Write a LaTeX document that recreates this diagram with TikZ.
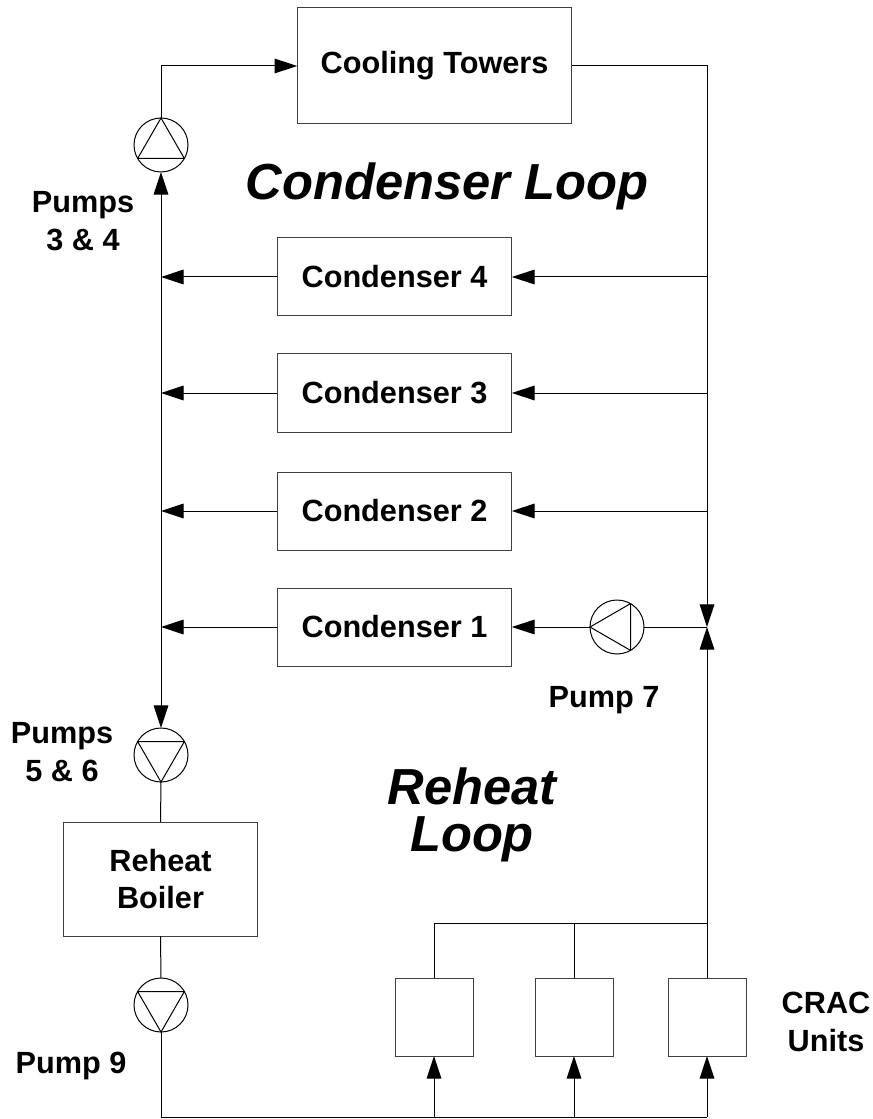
\documentclass[tikz,border=0pt]{standalone}
\usepackage{fontspec}
\setmainfont{Liberation Sans}
\usepackage{tikz}
\usetikzlibrary{arrows.meta}

\newcommand{\lbltxt}{\fontsize{23}{28}\selectfont\bfseries}
\newcommand{\looptxt}{\fontsize{38}{35}\selectfont\bfseries\itshape}

\tikzset{
  pipe/.style={line width=0.75pt},
  flow/.style={pipe,-{Triangle[length=17pt,width=11pt]}},
  unit/.style={draw=black!75,line width=0.75pt,inner sep=0pt,outer sep=0pt,font=\lbltxt,align=center},
  pump/.style={draw,circle,line width=0.75pt,inner sep=0pt,outer sep=0pt,minimum size=40.5pt},
  tag/.style={font=\lbltxt,align=center}
}

\begin{document}
\begin{tikzpicture}[x=0.75pt,y=-0.75pt]
\useasboundingbox (0,0) rectangle (873,1119);

\node[unit,minimum width=206pt,minimum height=87pt] (ct) at (434.5,66) {Cooling Towers};
\node[font=\looptxt,anchor=base] (cl) at (447,200) {Condenser Loop};

\node[unit,minimum width=176pt,minimum height=58.5pt] (c4) at (394.5,277) {Condenser 4};
\node[unit,minimum width=176pt,minimum height=58.5pt] (c3) at (394.5,393) {Condenser 3};
\node[unit,minimum width=176pt,minimum height=58.5pt] (c2) at (394.5,511) {Condenser 2};
\node[unit,minimum width=176pt,minimum height=58.5pt] (c1) at (394.5,627) {Condenser 1};

\node[pump] (p34) at (161,145) {};
\draw[pipe] (p34.90) -- (p34.210) -- (p34.330) -- cycle;
\node[tag] (t34) at (83,221) {Pumps\\3 \& 4};

\node[pump] (p7) at (617,627) {};
\draw[pipe] (p7.180) -- (p7.60) -- (p7.300) -- cycle;
\node[tag] (t7) at (604,700) {Pump 7};

\node[pump] (p56) at (161,755) {};
\draw[pipe] (p56.270) -- (p56.30) -- (p56.150) -- cycle;
\node[tag] (t56) at (62,752) {Pumps\\5 \& 6};

\node[unit,minimum width=146pt,minimum height=85.5pt] (rb) at (160.5,879) {Reheat\\Boiler};

\node[pump] (p9) at (161,1005) {};
\draw[pipe] (p9.270) -- (p9.30) -- (p9.150) -- cycle;
\node[tag] (t9) at (71,1066) {Pump 9};

\node[font=\looptxt,align=center] (rl) at (472,815) {Reheat\\Loop};

\node[unit,minimum size=58.5pt] (cr1) at (434,1017) {};
\node[unit,minimum size=58.5pt] (cr2) at (574,1017) {};
\node[unit,minimum size=58.5pt] (cr3) at (707,1017) {};
\node[tag] (tcr) at (826,1022) {CRAC\\Units};

% junctions on the pipes
\coordinate (J) at (707,627);
\coordinate (r4) at (707,277);
\coordinate (r3) at (707,393);
\coordinate (r2) at (707,511);
\coordinate (l4) at (161,277);
\coordinate (l3) at (161,393);
\coordinate (l2) at (161,511);
\coordinate (l1) at (161,627);
\coordinate (top) at (707,923);
\coordinate (b1) at (434,1117);
\coordinate (b2) at (574,1117);
\coordinate (b3) at (707,1117);

% condenser loop
\draw[flow] (p34.north) |- (ct.west);
\draw[flow] (ct.east) -| (J);
\draw[flow] (r4) -- (c4.east);
\draw[flow] (r3) -- (c3.east);
\draw[flow] (r2) -- (c2.east);
\draw[pipe] (J) -- (p7.east);
\draw[flow] (p7.west) -- (c1.east);
\draw[flow] (c4.west) -- (l4);
\draw[flow] (c3.west) -- (l3);
\draw[flow] (c2.west) -- (l2);
\draw[flow] (c1.west) -- (l1);
\draw[pipe,{Triangle[length=17pt,width=11pt]}-{Triangle[length=17pt,width=11pt]}] (p34.south) -- (p56.north);

% reheat loop
\draw[pipe] (p56.south) -- (rb.north);
\draw[pipe] (rb.south) -- (p9.north);
\draw[pipe] (p9.south) |- (b3);
\draw[flow] (b1) -- (cr1.south);
\draw[flow] (b2) -- (cr2.south);
\draw[flow] (b3) -- (cr3.south);
\draw[pipe] (cr1.north) |- (top);
\draw[pipe] (cr2.north) -- (cr2.north |- top);
\draw[flow] (cr3.north) -- (J);

\end{tikzpicture}
\end{document}
